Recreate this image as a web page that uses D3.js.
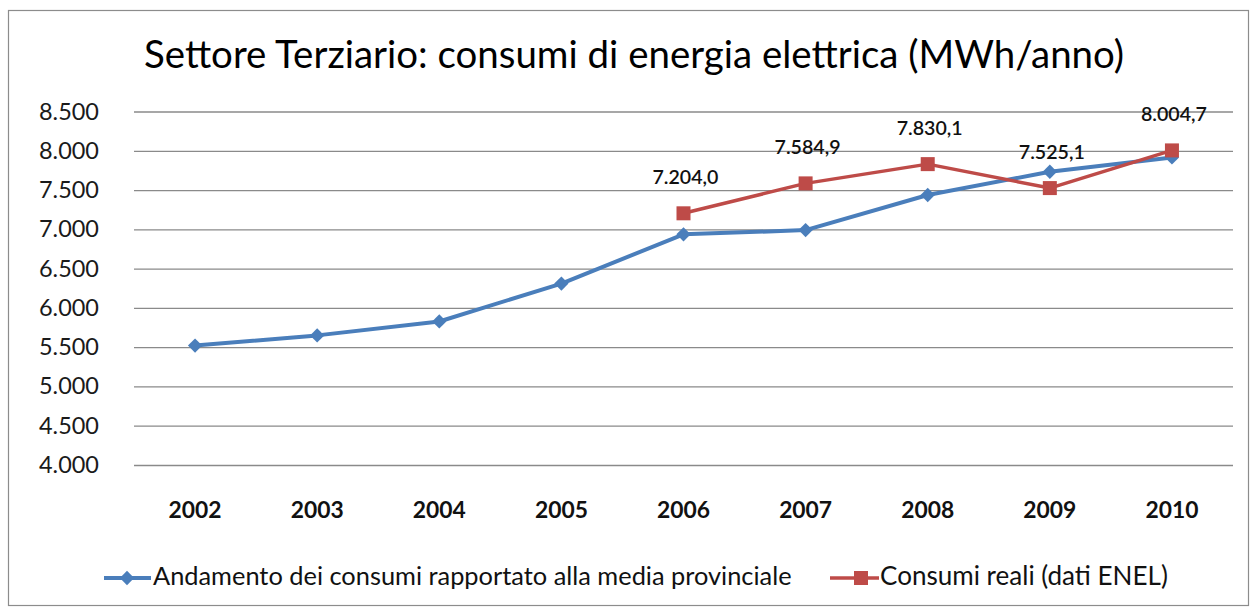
<!DOCTYPE html>
<html>
<head>
<meta charset="utf-8">
<script src="https://cdn.jsdelivr.net/npm/d3@7"></script>
<style>
  body { margin: 0; background: #fff; }
  svg { display: block; font-family: Lato, "Open Sans", sans-serif; }
</style>
</head>
<body>
<svg id="chart" width="1256" height="610"></svg>
<script>
// data
var years = ["2002", "2003", "2004", "2005", "2006", "2007", "2008", "2009", "2010"];
var mediaProvinciale = [5520, 5650, 5827, 6310, 6936, 6990, 7437, 7733, 7915];
var enelYears = ["2006", "2007", "2008", "2009", "2010"];
var enelValues = [7204.0, 7584.9, 7830.1, 7525.1, 8004.7];
var yTicks = [4000, 4500, 5000, 5500, 6000, 6500, 7000, 7500, 8000, 8500];
var titleText = "Settore Terziario: consumi di energia elettrica (MWh/anno)";
var legendNames = ["Andamento dei consumi rapportato alla media provinciale", "Consumi reali (dati ENEL)"];

var blue = "#4a7ebb", red = "#be4b48", grid = "#8a8a8a";

var it = d3.formatLocale({decimal: ",", thousands: ".", grouping: [3], currency: ["€", ""]});
var fmtTick = it.format(",.0f");
var fmtLabel = it.format(",.1f");

var svg = d3.select("#chart");

// scale the font so the text takes a given width
function fitText(sel, width) {
    sel.style("font-size", "20px");
    var w = sel.node().getComputedTextLength();
    sel.style("font-size", (20 * width / w) + "px");
}

// outer frame
svg.append("rect")
    .attr("x", 8.5).attr("y", 10.5)
    .attr("width", 1240).attr("height", 595)
    .attr("fill", "#fff").attr("stroke", "#8c8c8c").attr("stroke-width", 1.2);

// title
var title = svg.append("text")
    .attr("x", 634).attr("y", 68)
    .attr("text-anchor", "middle")
    .attr("fill", "#000")
    .text(titleText);
fitText(title, 980);

var x = d3.scaleBand().domain(years).range([134, 1233]).padding(0);
var y = d3.scaleLinear().domain([4000, 8500]).range([465, 111.5]);
var cx = function(yr) { return x(yr) + x.bandwidth() / 2; };

// y axis with gridlines
var yAxis = svg.append("g")
    .attr("transform", "translate(134,0)")
    .call(d3.axisLeft(y).tickValues(yTicks).tickFormat(fmtTick)
        .tickSize(-1099).tickPadding(35));
yAxis.select(".domain").remove();
yAxis.selectAll(".tick line").attr("stroke", grid).attr("stroke-width", 1.3);
yAxis.selectAll(".tick text")
    .attr("fill", "#1a1a1a")
    .style("font-family", "Lato, sans-serif")
    .each(function() { fitText(d3.select(this), 60); });

// x axis labels
var xAxis = svg.append("g")
    .attr("transform", "translate(0,465)")
    .call(d3.axisBottom(x).tickSize(0).tickPadding(37));
xAxis.select(".domain").remove();
xAxis.selectAll(".tick text")
    .attr("fill", "#111")
    .style("font-weight", "bold")
    .style("font-family", "Lato, sans-serif")
    .each(function() { fitText(d3.select(this), 53); });

// blue series
var blueData = years.map(function(yr, i) { return {year: yr, value: mediaProvinciale[i]}; });
var line = d3.line()
    .x(function(d) { return cx(d.year); })
    .y(function(d) { return y(d.value); });

svg.append("path")
    .datum(blueData)
    .attr("d", line)
    .attr("fill", "none")
    .attr("stroke", blue)
    .attr("stroke-width", 4)
    .attr("stroke-linejoin", "round");

var diamond = d3.symbol().type(d3.symbolDiamond2).size(130);
svg.selectAll("path.blue-pt")
    .data(blueData)
    .enter().append("path")
    .attr("class", "blue-pt")
    .attr("d", diamond)
    .attr("transform", function(d) { return "translate(" + cx(d.year) + "," + y(d.value) + ")"; })
    .attr("fill", blue);

// red series
var redData = enelYears.map(function(yr, i) { return {year: yr, value: enelValues[i]}; });
svg.append("path")
    .datum(redData)
    .attr("d", line)
    .attr("fill", "none")
    .attr("stroke", red)
    .attr("stroke-width", 3.5)
    .attr("stroke-linejoin", "round");

svg.selectAll("rect.red-pt")
    .data(redData)
    .enter().append("rect")
    .attr("class", "red-pt")
    .attr("x", function(d) { return cx(d.year) - 7; })
    .attr("y", function(d) { return y(d.value) - 7; })
    .attr("width", 14).attr("height", 14)
    .attr("fill", red);

// data labels
svg.selectAll("text.lbl")
    .data(redData)
    .enter().append("text")
    .attr("class", "lbl")
    .attr("x", function(d) { return cx(d.year) + 2; })
    .attr("y", function(d) { return y(d.value) - 29; })
    .attr("text-anchor", "middle")
    .attr("fill", "#111")
    .style("font-weight", "600")
    .text(function(d) { return fmtLabel(d.value); })
    .each(function() { fitText(d3.select(this), 66); });

// legend
var lg = svg.append("g").attr("transform", "translate(0,578)");
lg.append("line").attr("x1", 104).attr("x2", 151).attr("y1", 0).attr("y2", 0)
    .attr("stroke", blue).attr("stroke-width", 4);
lg.append("path").attr("d", diamond).attr("transform", "translate(127,0)").attr("fill", blue);
var t1 = lg.append("text").attr("x", 153).attr("y", 7).attr("fill", "#111").text(legendNames[0]);
fitText(t1, 639);

lg.append("line").attr("x1", 830).attr("x2", 879).attr("y1", 0).attr("y2", 0)
    .attr("stroke", red).attr("stroke-width", 3.5);
lg.append("rect").attr("x", 854).attr("y", -7).attr("width", 14).attr("height", 14).attr("fill", red);
var t2 = lg.append("text").attr("x", 880).attr("y", 7).attr("fill", "#111").text(legendNames[1]);
fitText(t2, 288);
</script>
</body>
</html>
